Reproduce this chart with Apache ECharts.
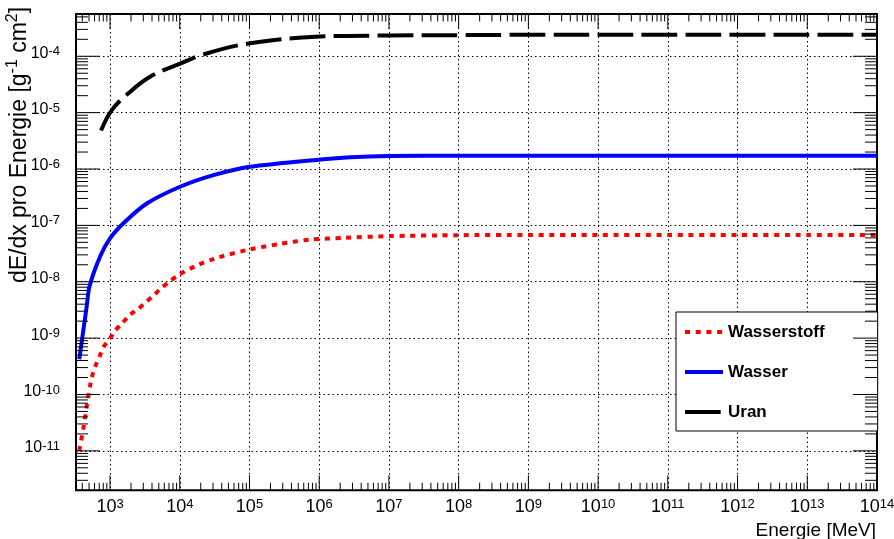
<!DOCTYPE html>
<html>
<head>
<meta charset="utf-8">
<title>Energieverlust pro Energie</title>
<script src="https://cdn.jsdelivr.net/npm/echarts@6/dist/echarts.min.js"></script>
<style>
  html, body { margin: 0; padding: 0; background: #ffffff; }
  #chart { width: 894px; height: 539px; }
</style>
</head>
<body>
<div id="chart"></div>
<script>
// Energy loss per energy, dE/dx / E  [g^-1 cm^2], versus energy [MeV]
const hydrogenEnergy = [362, 414, 462, 516, 546, 610, 701, 802, 977, 1180, 1470, 1940, 2550, 3290, 4290, 5520, 7280, 9550, 18500, 35900, 1.02e5, 2.75e5, 7.45e5, 2.24e6, 1e7, 1e8, 1e9, 1e10, 1e11, 1e12, 1e13, 1e14];
const hydrogenValue  = [1.0e-11, 2.5e-11, 6.0e-11, 1.38e-10, 2.0e-10, 3.1e-10, 4.6e-10, 6.9e-10, 9.5e-10, 1.35e-9, 1.8e-9, 2.6e-9, 3.3e-9, 4.4e-9, 5.8e-9, 7.9e-9, 1.02e-8, 1.32e-8, 2.0e-8, 2.7e-8, 3.76e-8, 4.7e-8, 5.6e-8, 6.0e-8, 6.45e-8, 6.7e-8, 6.75e-8, 6.75e-8, 6.75e-8, 6.75e-8, 6.75e-8, 6.75e-8];

const waterEnergy = [362, 414, 462, 505, 718, 1000, 1640, 3370, 10100, 30400, 1.02e5, 1.04e6, 2.8e6, 1e7, 1e8, 1e9, 1e10, 1e11, 1e12, 1e13, 1e14];
const waterValue  = [4.2e-10, 1.38e-9, 3.6e-9, 8.1e-9, 2.78e-8, 5.9e-8, 1.16e-7, 2.45e-7, 4.85e-7, 7.8e-7, 1.1e-6, 1.48e-6, 1.62e-6, 1.7e-6, 1.72e-6, 1.72e-6, 1.72e-6, 1.72e-6, 1.72e-6, 1.72e-6, 1.72e-6];

const uraniumEnergy = [743, 1060, 1830, 3750, 10100, 21900, 1.02e5, 1.04e6, 2.5e6, 1e7, 1e8, 1e9, 1e10, 1e11, 1e12, 1e13, 1e14];
const uraniumValue  = [4.8e-6, 1.11e-5, 2.2e-5, 4.35e-5, 7.4e-5, 1.08e-4, 1.7e-4, 2.24e-4, 2.29e-4, 2.34e-4, 2.37e-4, 2.4e-4, 2.4e-4, 2.4e-4, 2.4e-4, 2.4e-4, 2.4e-4];

const seriesNames = ['Wasserstoff', 'Wasser', 'Uran'];

// decade exponents that carry a label
const xTickExponents = [3, 4, 5, 6, 7, 8, 9, 10, 11, 12, 13, 14];
const yTickExponents = [-11, -10, -9, -8, -7, -6, -5, -4];

// axis range (decades)
const X_MIN = Math.log10(325);
const X_MAX = 14;
const Y_MIN = -11.70;
const Y_MAX = -3.25;

const FONT = "'Liberation Sans', Arial, Helvetica, sans-serif";

function toLogPairs(energy, value) {
  return energy.map((e, i) => [Math.log10(e), Math.log10(value[i])]);
}

// minor log ticks at 2..9 times each decade inside [lo, hi]
function minorPositions(lo, hi) {
  const out = [];
  for (let n = Math.floor(lo); n <= Math.ceil(hi); n++) {
    for (let k = 2; k <= 9; k++) {
      const v = n + Math.log10(k);
      if (v > lo + 1e-6 && v < hi - 1e-6) out.push(v);
    }
  }
  return out;
}

const xTickMarks = xTickExponents.map(v => [v, Y_MIN, 1])
  .concat(minorPositions(X_MIN, X_MAX).map(v => [v, Y_MIN, 0]));
const yTickMarks = yTickExponents.map(v => [X_MIN, v, 1])
  .concat(minorPositions(Y_MIN, Y_MAX).map(v => [X_MIN, v, 0]));

const X_MAJOR = 15, X_MINOR = 7.5, Y_MAJOR = 24, Y_MINOR = 12;

function tickLine(x1, y1, x2, y2) {
  return { type: 'line', shape: { x1, y1, x2, y2 }, style: { stroke: '#000', lineWidth: 1 } };
}

const chart = echarts.init(document.getElementById('chart'), null, { renderer: 'canvas' });

chart.setOption({
  animation: false,
  backgroundColor: '#ffffff',
  grid: {
    left: 76, right: 17, top: 14, bottom: 48.7,
    outerBoundsMode: 'none',
    containLabel: false,
    show: true, borderColor: '#000', borderWidth: 2, backgroundColor: 'transparent'
  },
  xAxis: {
    type: 'value', min: X_MIN, max: X_MAX,
    axisLine: { show: false },
    axisTick: { show: false, customValues: xTickExponents },
    splitLine: { show: true, lineStyle: { color: '#000', width: 1, type: [1.5, 3] } },
    axisLabel: {
      customValues: xTickExponents,
      margin: 8,
      color: '#000',
      fontFamily: FONT,
      formatter: v => '{b|10}{s|' + v + '}',
      rich: {
        b: { fontSize: 18, lineHeight: 26, fontFamily: FONT, color: '#000', verticalAlign: 'top' },
        s: { fontSize: 13, lineHeight: 12, fontFamily: FONT, color: '#000', verticalAlign: 'top' }
      }
    }
  },
  yAxis: {
    type: 'value', min: Y_MIN, max: Y_MAX,
    axisLine: { show: false },
    axisTick: { show: false, customValues: yTickExponents },
    splitLine: { show: true, lineStyle: { color: '#000', width: 1, type: [1.5, 3] } },
    axisLabel: {
      customValues: yTickExponents,
      margin: 16,
      color: '#000',
      fontFamily: FONT,
      formatter: v => '{b|10}{s|' + v + '}',
      rich: {
        b: { fontSize: 16, lineHeight: 22, fontFamily: FONT, color: '#000', verticalAlign: 'top' },
        s: { fontSize: 13, lineHeight: 13, fontFamily: FONT, color: '#000', verticalAlign: 'top' }
      }
    }
  },
  legend: {
    data: seriesNames,
    orient: 'vertical',
    left: 676, top: 312,
    padding: [10, 53, 9, 7],
    itemGap: 20, itemWidth: 38, itemHeight: 14,
    backgroundColor: '#ffffff', borderColor: '#000', borderWidth: 1, borderRadius: 0,
    itemStyle: { opacity: 0 },
    lineStyle: { width: 4 },
    textStyle: { fontFamily: FONT, fontWeight: 'bold', fontSize: 17, color: '#000', lineHeight: 20 }
  },
  graphic: [
    {
      type: 'text', x: 18, y: 145, rotation: Math.PI / 2, silent: true,
      style: {
        text: '{t|dE/dx pro Energie [g}{s|-1}{t| cm}{s|2}{t|]}',
        align: 'center', verticalAlign: 'middle',
        rich: {
          t: { fontSize: 23, lineHeight: 27, fontFamily: FONT, fill: '#000', verticalAlign: 'bottom' },
          s: { fontSize: 16, lineHeight: 16, fontFamily: FONT, fill: '#000', verticalAlign: 'top' }
        }
      }
    },
    {
      type: 'text', x: 876, y: 531, silent: true,
      style: { text: 'Energie [MeV]', font: '19px ' + FONT, fill: '#000', align: 'right', verticalAlign: 'middle' }
    }
  ],
  series: [
    {
      name: 'Wasserstoff', type: 'line', data: toLogPairs(hydrogenEnergy, hydrogenValue),
      symbol: 'none', showSymbol: false, z: 3, smooth: 0.25,
      itemStyle: { color: '#ff0000' },
      lineStyle: { color: '#ff0000', width: 4, type: [5, 5.7] }
    },
    {
      name: 'Wasser', type: 'line', data: toLogPairs(waterEnergy, waterValue),
      symbol: 'none', showSymbol: false, z: 3, smooth: 0.25,
      itemStyle: { color: '#0000ff' },
      lineStyle: { color: '#0000ff', width: 4 }
    },
    {
      name: 'Uran', type: 'line', data: toLogPairs(uraniumEnergy, uraniumValue),
      symbol: 'none', showSymbol: false, z: 3, smooth: 0.4,
      itemStyle: { color: '#000000' },
      lineStyle: { color: '#000000', width: 4, type: [35.7, 8.3] }
    },
    {
      // ticks along bottom and top frame edges
      type: 'custom', silent: true, clip: false, z: 4,
      data: xTickMarks,
      renderItem: function (params, api) {
        const cs = params.coordSys;
        const px = api.coord([api.value(0), api.value(1)])[0];
        const len = api.value(2) ? X_MAJOR : X_MINOR;
        const bottom = cs.y + cs.height, top = cs.y;
        return { type: 'group', children: [
          tickLine(px, bottom, px, bottom - len),
          tickLine(px, top, px, top + len)
        ] };
      }
    },
    {
      // ticks along left and right frame edges
      type: 'custom', silent: true, clip: false, z: 4,
      data: yTickMarks,
      renderItem: function (params, api) {
        const cs = params.coordSys;
        const py = api.coord([api.value(0), api.value(1)])[1];
        const len = api.value(2) ? Y_MAJOR : Y_MINOR;
        const left = cs.x, right = cs.x + cs.width;
        return { type: 'group', children: [
          tickLine(left, py, left + len, py),
          tickLine(right, py, right - len, py)
        ] };
      }
    }
  ]
});
</script>
</body>
</html>
